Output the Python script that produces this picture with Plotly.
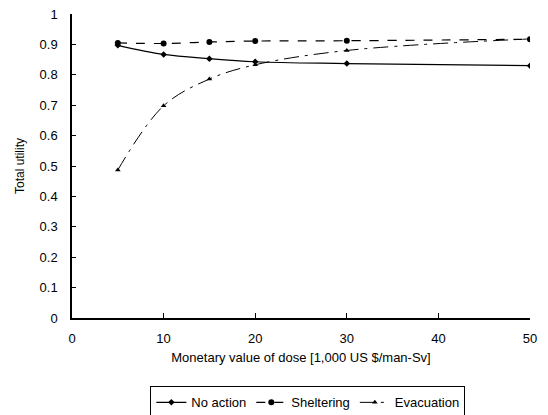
import plotly.graph_objects as go

doses = [5, 10, 15, 20, 30, 50]
no_action = [0.897, 0.867, 0.853, 0.843, 0.837, 0.830]
sheltering = [0.905, 0.903, 0.908, 0.911, 0.912, 0.917]
evacuation = [0.487, 0.698, 0.786, 0.833, 0.880, 0.918]

fig = go.Figure()
fig.add_trace(go.Scatter(x=doses, y=no_action, name="No action", mode="lines+markers",
                         line=dict(color="black", width=1.2, shape="spline", dash="solid"),
                         marker=dict(symbol="diamond", size=5, color="black")))
fig.add_trace(go.Scatter(x=doses, y=sheltering, name="Sheltering", mode="lines+markers",
                         line=dict(color="black", width=1.2, shape="spline", dash="dash"),
                         marker=dict(symbol="circle", size=6, color="black")))
fig.add_trace(go.Scatter(x=doses, y=evacuation, name="Evacuation", mode="lines+markers",
                         line=dict(color="black", width=1.0, shape="spline", dash="longdashdot"),
                         marker=dict(symbol="triangle-up", size=5, color="black")))

fig.update_layout(
    width=548, height=415,
    margin=dict(l=72, r=18, t=14, b=97, autoexpand=False),
    paper_bgcolor="white", plot_bgcolor="white",
    font=dict(family="Liberation Sans, Arial, sans-serif", size=13, color="black"),
    showlegend=True,
    legend=dict(orientation="h", x=0.515, xanchor="center", y=-0.225, yanchor="top",
                bordercolor="black", borderwidth=1, font=dict(size=13),
                itemwidth=30, tracegroupgap=0),
)
fig.update_xaxes(range=[0, 50], tick0=0, dtick=10, showgrid=False, zeroline=False,
                 showline=True, linecolor="black", linewidth=1.5,
                 ticks="inside", ticklen=5, tickcolor="black", tickfont=dict(size=13),
                 ticklabelstandoff=8,
                 title=dict(text="Monetary value of dose [1,000 US $/man-Sv]", font=dict(size=13), standoff=8))
fig.update_yaxes(range=[0, 1], tick0=0, dtick=0.1, showgrid=False, zeroline=False,
                 showline=True, linecolor="black", linewidth=1.5,
                 ticks="inside", ticklen=4, tickcolor="black", tickfont=dict(size=13),
                 ticklabelstandoff=10,
                 title=dict(text="Total utility", font=dict(size=12), standoff=12))

fig.write_html("out.html", config={"displayModeBar": False},
               post_script="document.body.style.margin='0';")
